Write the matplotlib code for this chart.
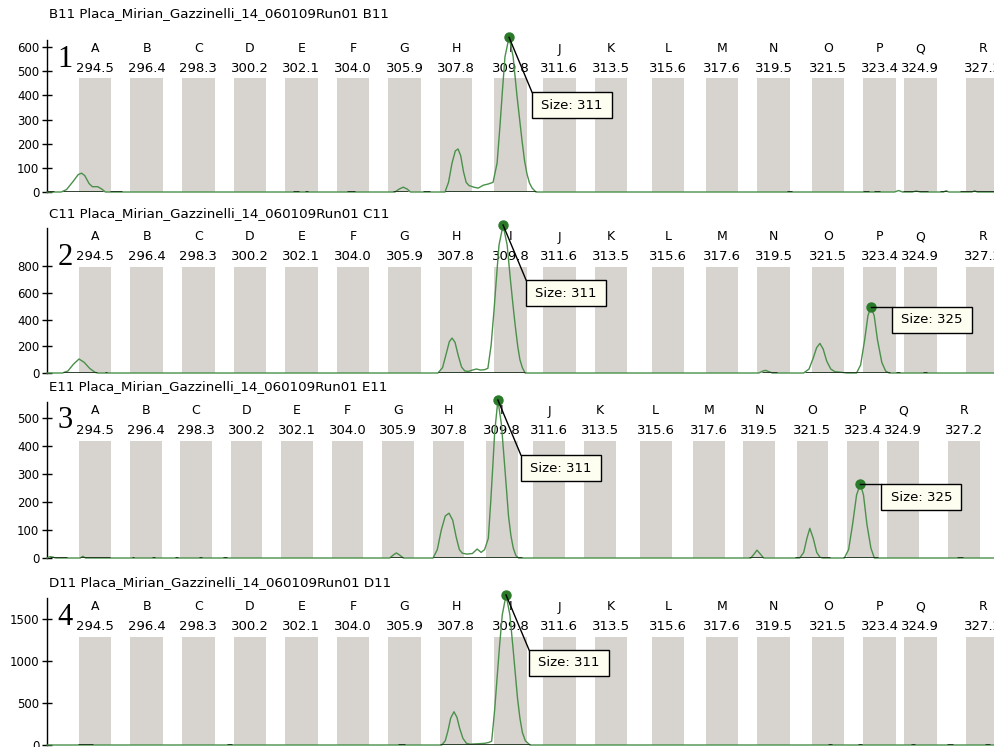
import matplotlib
matplotlib.use('Agg')
import matplotlib.pyplot as plt
import matplotlib.transforms as mtransforms
from matplotlib.patches import Rectangle
from matplotlib.lines import Line2D

W, H, DPI = 995, 747, 100

# bins (allele ladder)
bin_names = list("ABCDEFGHIJKLMNOPQR")
bin_sizes = [294.5, 296.4, 298.3, 300.2, 302.1, 304.0, 305.9, 307.8, 309.8,
             311.6, 313.5, 315.6, 317.6, 319.5, 321.5, 323.4, 324.9, 327.2]

sample_names = [
    "B11 Placa_Mirian_Gazzinelli_14_060109Run01 B11",
    "C11 Placa_Mirian_Gazzinelli_14_060109Run01 C11",
    "E11 Placa_Mirian_Gazzinelli_14_060109Run01 E11",
    "D11 Placa_Mirian_Gazzinelli_14_060109Run01 D11",
]
panel_tags = ["1", "2", "3", "4"]
y_tops = [629, 1088, 557, 1750]
y_ticks = [
    [0, 100, 200, 300, 400, 500, 600],
    [0, 200, 400, 600, 800],
    [0, 100, 200, 300, 400, 500],
    [0, 500, 1000, 1500],
]
# visible size range of each panel (panel 3 is zoomed out a little)
x_ranges = [(292.73, 327.65), (292.73, 327.65), (292.69, 328.37), (292.73, 327.65)]

# traces (size in bp, height in RFU)
trace1_bp = [292.73, 293.25, 293.45, 293.7, 293.88, 294.0, 294.12, 294.28, 294.4, 294.6, 294.75, 294.88,
             305.55, 305.7, 305.85, 306.0, 306.12,
             307.39, 307.52, 307.65, 307.77, 307.87, 307.97, 308.07, 308.17, 308.27, 308.45, 308.61, 308.8,
             308.98, 309.16, 309.31, 309.42, 309.5, 309.6, 309.75, 309.9, 310.04, 310.14, 310.23, 310.32,
             310.41, 310.5, 310.6, 310.74,
             323.95, 324.1, 324.25, 324.6, 324.75, 324.9, 325.75, 325.85, 325.95, 326.8, 326.9, 327.0, 327.65]
trace1_rfu = [0, 0, 10, 45, 72, 78, 68, 35, 22, 22, 12, 0,
              0, 12, 20, 12, 0,
              0, 40, 120, 170, 178, 150, 85, 40, 27, 20, 16, 28,
              33, 40, 120, 280, 410, 560, 640, 560, 400, 300, 210, 130,
              75, 38, 16, 0,
              0, 6, 0, 0, 4, 0, 0, 5, 0, 0, 5, 0, 0]

trace2_bp = [292.73, 293.3, 293.5, 293.7, 293.91, 294.1, 294.3, 294.5, 294.6,
             307.13, 307.3, 307.43, 307.55, 307.65, 307.76, 307.88, 308.0, 308.12, 308.25, 308.4, 308.55,
             308.7, 308.85, 308.97, 309.09, 309.2, 309.28, 309.38, 309.53, 309.68, 309.8, 309.9, 309.98,
             310.07, 310.15, 310.24, 310.34,
             318.95, 319.1, 319.2, 319.32, 319.45,
             320.6, 320.8, 320.95, 321.08, 321.2, 321.32, 321.45, 321.6, 321.75, 322.0, 322.2,
             322.55, 322.7, 322.85, 322.97, 323.08, 323.2, 323.32, 323.48, 323.62, 323.75, 327.65]
trace2_rfu = [0, 0, 15, 65, 105, 80, 35, 5, 0,
              0, 40, 140, 235, 262, 230, 130, 45, 15, 12, 22, 30,
              22, 25, 35, 210, 480, 700, 960, 1110, 960, 700, 500, 350,
              200, 100, 40, 0,
              0, 15, 20, 10, 0,
              0, 30, 110, 190, 222, 180, 90, 30, 10, 5, 0,
              0, 60, 250, 430, 497, 430, 250, 80, 15, 0, 0]

trace3_bp = [292.69, 292.81, 292.92, 293.02, 293.94, 294.04, 294.14,
             305.59, 305.74, 305.84, 305.97, 306.10,
             307.22, 307.38, 307.53, 307.68, 307.82, 307.96, 308.09, 308.21, 308.32, 308.50, 308.70, 308.88,
             309.03, 309.16, 309.30, 309.39, 309.47, 309.54, 309.66, 309.79, 309.89, 309.98, 310.06,
             310.15, 310.24, 310.34, 310.44,
             319.18, 319.31, 319.41, 319.53, 319.66,
             321.02, 321.17, 321.29, 321.40, 321.53, 321.66, 321.78, 321.88,
             322.70, 322.86, 323.01, 323.16, 323.30, 323.42, 323.55, 323.70, 323.83, 328.37]
trace3_rfu = [0, 5, 3, 0, 0, 6, 0,
              0, 12, 18, 10, 0,
              0, 30, 100, 150, 160, 135, 75, 30, 17, 14, 16, 32,
              20, 30, 70, 200, 330, 450, 564, 480, 360, 250, 150,
              80, 35, 8, 0,
              0, 15, 28, 15, 0,
              0, 20, 70, 106, 70, 20, 3, 0,
              0, 30, 120, 225, 264, 225, 120, 35, 0, 0]

trace4_bp = [292.73, 307.27, 307.4, 307.5, 307.6, 307.72, 307.83, 307.93, 308.05, 308.18, 308.31,
             308.6, 308.85, 309.0, 309.11, 309.22, 309.3, 309.4, 309.5, 309.64, 309.78, 309.9, 309.98,
             310.06, 310.15, 310.24, 310.35, 310.52, 327.65]
trace4_rfu = [0, 0, 50, 170, 320, 396, 330, 200, 80, 20, 10,
              15, 20, 30, 45, 420, 760, 1180, 1550, 1786, 1550, 1140, 850,
              560, 320, 150, 50, 0, 0]

traces = [(trace1_bp, trace1_rfu), (trace2_bp, trace2_rfu),
          (trace3_bp, trace3_rfu), (trace4_bp, trace4_rfu)]

# called peaks: (size, height, label)
calls = [
    [(309.75, 640, "Size: 311")],
    [(309.53, 1110, "Size: 311"), (323.08, 497, "Size: 325")],
    [(309.66, 564, "Size: 311"), (323.30, 264, "Size: 325")],
    [(309.64, 1786, "Size: 311")],
]

# dark baseline marks (start, end) in bp
marks = [
    [(292.73, 293.0), (293.32, 294.8), (295.05, 295.5), (301.79, 302.0), (302.25, 302.35),
     (303.78, 304.07), (305.48, 306.03), (306.58, 306.84), (307.39, 310.74), (319.99, 320.17),
     (322.79, 323.0), (323.2, 323.41), (324.26, 325.18), (325.62, 325.88), (326.36, 327.65)],
    [(293.32, 294.57), (294.85, 294.95), (307.13, 310.34), (319.07, 319.62), (320.65, 323.78),
     (324.0, 324.15), (325.0, 325.15)],
    [(292.80, 293.45), (293.94, 295.06), (295.88, 295.98), (296.65, 296.75), (297.51, 297.62),
     (298.40, 298.51), (299.30, 299.47), (305.61, 306.10), (307.22, 310.57), (319.13, 319.64),
     (320.84, 322.16), (322.66, 323.97), (326.94, 327.17)],
    [(293.87, 294.43), (299.36, 299.55), (305.66, 305.92), (307.2, 310.52), (321.5, 321.65),
     (322.6, 322.75), (324.55, 324.7), (325.88, 326.1), (327.3, 327.45)],
]

# layout in pixels
AX_LEFT = 47
panel_px = [(40, 192), (228, 373), (402, 558), (598, 745)]
title_y = [14, 214, 387, 583]
tag_base_y = [67, 265, 428, 625]
call_offsets = [(23, 55), (21, 0)]   # box top-left relative to the peak, px
BOX_W, BOX_H = 80, 26
BIN_W = 1.2

GREEN = '#4a904a'
DOT = '#2a7a2a'
BIN_GRAY = '#d7d4cf'

fig = plt.figure(figsize=(W / DPI, H / DPI), dpi=DPI)
fig.patch.set_facecolor('white')

for i in range(4):
    top, bot = panel_px[i]
    hpx = bot - top
    ax = fig.add_axes([AX_LEFT / W, 1 - bot / H, (W - AX_LEFT) / W, hpx / H])
    ax.set_xlim(*x_ranges[i])
    ax.set_ylim(0, y_tops[i])
    ax.patch.set_alpha(0)

    # bins
    bin_h = y_tops[i] * (1 - 38.5 / hpx)
    ax.bar(bin_sizes, bin_h, width=BIN_W, color=BIN_GRAY, zorder=0, linewidth=0)
    for name, s in zip(bin_names, bin_sizes):
        ax.text(s, y_tops[i] * (1 - 9 / hpx), name, ha='center', va='center', fontsize=9)
        ax.text(s, y_tops[i] * (1 - 28 / hpx), f"{s:.1f}", ha='center', va='center', fontsize=9.5)

    bp, rfu = traces[i]
    ax.plot(bp, rfu, color=GREEN, lw=1, zorder=3, clip_on=False)
    starts = [m[0] for m in marks[i]]
    ends = [m[1] for m in marks[i]]
    ax.hlines([0] * len(starts), starts, ends, color='#1d331d', lw=2, zorder=4)

    ax.set_xticks([])
    ax.set_yticks(y_ticks[i])
    ax.tick_params(axis='y', direction='inout', length=7, width=1, pad=2, labelsize=8.5)
    for side in ['top', 'right', 'bottom']:
        ax.spines[side].set_visible(False)
    ax.spines['left'].set_linewidth(1)

    fig.text(49 / W, 1 - title_y[i] / H, sample_names[i], fontsize=9.6, va='center')
    fig.text(65 / W, 1 - tag_base_y[i] / H, panel_tags[i], fontsize=22,
             family='Liberation Serif', ha='center', va='baseline')

    # peak calls with labelled boxes
    for k, (s, h, label) in enumerate(calls[i]):
        ax.plot([s], [h], marker='o', ms=6.5, color=DOT, zorder=6, clip_on=False)
        px, py = ax.transData.transform((s, h))
        tr = mtransforms.Affine2D().translate(px, py)
        dx, dy = call_offsets[k]
        fig.add_artist(Line2D([0, dx], [0, -dy], color='black', lw=1, transform=tr, zorder=7))
        fig.add_artist(Rectangle((dx, -dy - BOX_H), BOX_W, BOX_H, transform=tr,
                                 facecolor='#fdfdf0', edgecolor='black', lw=1, zorder=8))
        fig.text(dx + BOX_W / 2, -dy - BOX_H / 2, label, transform=tr,
                 ha='center', va='center', fontsize=9.5, zorder=9)

fig.savefig('out.png', dpi=DPI)
